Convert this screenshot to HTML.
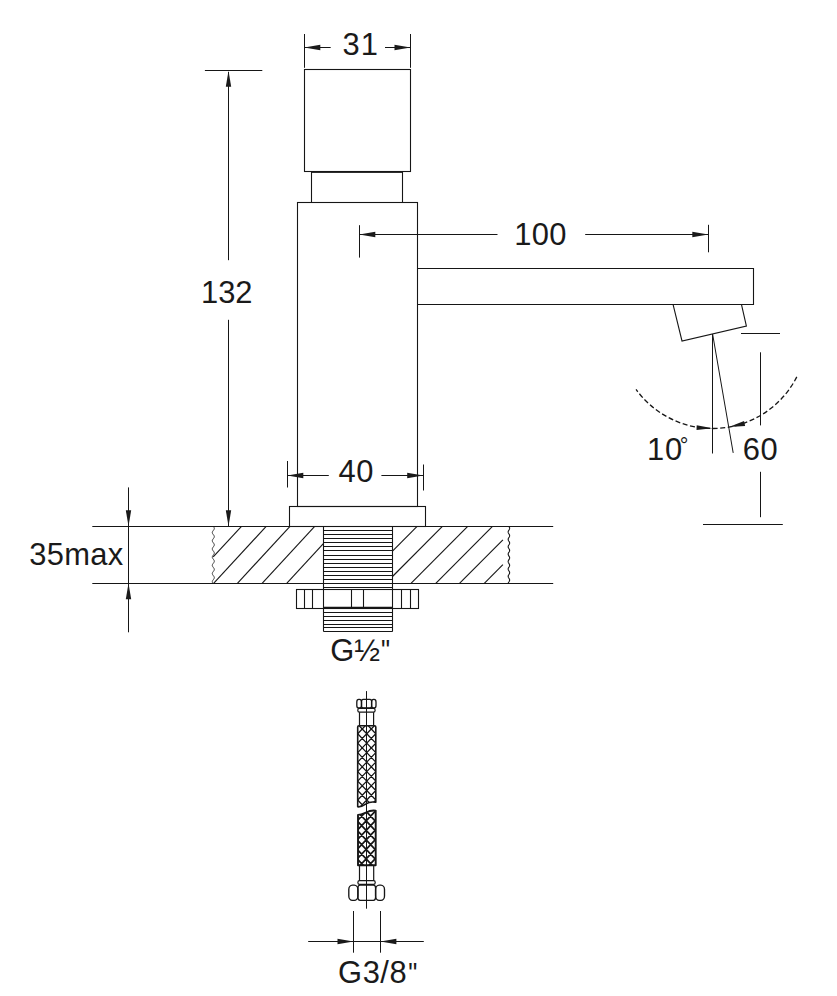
<!DOCTYPE html>
<html><head><meta charset="utf-8"><title>Technical drawing</title>
<style>
html,body{margin:0;padding:0;background:#fff;}
svg{display:block;}
text{font-family:"Liberation Sans",sans-serif;fill:#1a1a1a;stroke:none;}
</style></head>
<body>
<svg width="837" height="996" viewBox="0 0 837 996" stroke="#161616" fill="none">
<rect x="304.5" y="69.5" width="106.0" height="102.0" fill="none" stroke-width="1.1"/>
<line x1="311.50" y1="171.50" x2="311.50" y2="202.40" stroke-width="1.1" />
<line x1="402.50" y1="171.50" x2="402.50" y2="202.40" stroke-width="1.1" />
<line x1="311.40" y1="172.50" x2="402.60" y2="172.50" stroke-width="0.9" />
<rect x="297.5" y="202.5" width="120.0" height="304.0" fill="none" stroke-width="1.1"/>
<rect x="289.5" y="506.5" width="136.0" height="20.0" fill="none" stroke-width="1.1"/>
<polyline points="417.5,268.5 753.5,268.5 753.5,304.5 417.5,304.5" fill="none" stroke-width="1.1"/>
<polyline points="673.1,304.6 682.0,341 746.4,326.1 741.5,304.6" fill="none" stroke-width="1.1"/>
<line x1="304.50" y1="34.00" x2="304.50" y2="67.80" stroke-width="1.0" />
<line x1="410.50" y1="34.00" x2="410.50" y2="67.80" stroke-width="1.0" />
<line x1="304.30" y1="47.50" x2="330.70" y2="47.50" stroke-width="1.0" />
<line x1="385.00" y1="47.50" x2="410.50" y2="47.50" stroke-width="1.0" />
<polygon points="304.30,47.50 320.30,44.80 320.30,50.20" fill="#1a1a1a" stroke="none"/>
<polygon points="410.50,47.50 394.50,50.20 394.50,44.80" fill="#1a1a1a" stroke="none"/>
<text transform="translate(342.50,55.30) scale(1.03,1.03)" font-size="30" letter-spacing="1.0">31</text>
<line x1="204.90" y1="70.50" x2="262.30" y2="70.50" stroke-width="1.0" />
<line x1="228.50" y1="72.00" x2="228.50" y2="260.20" stroke-width="1.0" />
<line x1="228.50" y1="319.80" x2="228.50" y2="526.00" stroke-width="1.0" />
<polygon points="228.50,70.80 231.20,86.80 225.80,86.80" fill="#1a1a1a" stroke="none"/>
<polygon points="228.50,526.20 225.80,510.20 231.20,510.20" fill="#1a1a1a" stroke="none"/>
<text transform="translate(201.00,302.60) scale(1.03,1.03)" font-size="30" letter-spacing="0">132</text>
<line x1="359.50" y1="225.20" x2="359.50" y2="257.60" stroke-width="1.0" />
<line x1="708.50" y1="224.80" x2="708.50" y2="252.30" stroke-width="1.0" />
<line x1="359.30" y1="234.50" x2="497.50" y2="234.50" stroke-width="1.0" />
<line x1="585.20" y1="234.50" x2="708.30" y2="234.50" stroke-width="1.0" />
<polygon points="359.30,234.50 375.30,231.80 375.30,237.20" fill="#1a1a1a" stroke="none"/>
<polygon points="708.30,234.50 692.30,237.20 692.30,231.80" fill="#1a1a1a" stroke="none"/>
<text transform="translate(514.20,244.60) scale(1.03,1.03)" font-size="30" letter-spacing="0.3">100</text>
<line x1="287.50" y1="461.00" x2="287.50" y2="487.50" stroke-width="1.0" />
<line x1="423.50" y1="464.50" x2="423.50" y2="490.50" stroke-width="1.0" />
<line x1="287.30" y1="475.50" x2="328.80" y2="475.50" stroke-width="1.0" />
<line x1="381.40" y1="475.50" x2="423.20" y2="475.50" stroke-width="1.0" />
<polygon points="287.30,475.50 303.30,472.80 303.30,478.20" fill="#1a1a1a" stroke="none"/>
<polygon points="423.20,475.50 407.20,478.20 407.20,472.80" fill="#1a1a1a" stroke="none"/>
<text transform="translate(338.50,482.10) scale(1.03,1.03)" font-size="30" letter-spacing="0.5">40</text>
<line x1="92.30" y1="526.50" x2="553.20" y2="526.50" stroke-width="1.1" />
<line x1="92.30" y1="583.50" x2="553.20" y2="583.50" stroke-width="1.1" />
<line x1="213.20" y1="556.97" x2="241.50" y2="526.40" stroke-width="1.12" />
<line x1="213.60" y1="583.30" x2="266.20" y2="526.40" stroke-width="1.12" />
<line x1="237.40" y1="583.30" x2="290.00" y2="526.40" stroke-width="1.12" />
<line x1="262.10" y1="583.30" x2="314.70" y2="526.40" stroke-width="1.12" />
<line x1="286.70" y1="583.30" x2="323.60" y2="543.31" stroke-width="1.12" />
<line x1="392.50" y1="551.20" x2="417.10" y2="526.40" stroke-width="1.12" />
<line x1="392.50" y1="576.50" x2="442.40" y2="526.40" stroke-width="1.12" />
<line x1="411.00" y1="583.30" x2="467.70" y2="526.40" stroke-width="1.12" />
<line x1="435.80" y1="583.30" x2="492.50" y2="526.40" stroke-width="1.12" />
<line x1="459.50" y1="583.30" x2="502.90" y2="539.90" stroke-width="1.12" />
<line x1="484.30" y1="583.30" x2="502.90" y2="564.70" stroke-width="1.12" />
<polyline points="213.30,526.40 213.68,526.90 214.00,527.41 214.22,527.91 214.30,528.41 214.24,528.92 214.04,529.42 213.73,529.92 213.35,530.43 212.98,530.93 212.64,531.44 212.41,531.94 212.30,532.44 212.35,532.95 212.53,533.45 212.82,533.95 213.19,534.46 213.57,534.96 213.91,535.46 214.17,535.97 214.29,536.47 214.27,536.97 214.11,537.48 213.82,537.98 213.46,538.48 213.08,538.99 212.73,539.49 212.46,540.00 212.32,540.50 212.32,541.00 212.46,541.51 212.73,542.01 213.08,542.51 213.47,543.02 213.82,543.52 214.11,544.02 214.27,544.53 214.29,545.03 214.17,545.53 213.91,546.04 213.57,546.54 213.19,547.05 212.82,547.55 212.53,548.05 212.35,548.56 212.30,549.06 212.41,549.56 212.64,550.07 212.98,550.57 213.36,551.07 213.73,551.58 214.04,552.08 214.24,552.58 214.30,553.09 214.22,553.59 214.00,554.09 213.68,554.60 213.30,555.10 212.92,555.61 212.60,556.11 212.38,556.61 212.30,557.12 212.36,557.62 212.57,558.12 212.87,558.63 213.25,559.13 213.63,559.63 213.96,560.14 214.19,560.64 214.30,561.14 214.25,561.65 214.07,562.15 213.77,562.65 213.41,563.16 213.03,563.66 212.68,564.17 212.43,564.67 212.31,565.17 212.33,565.68 212.50,566.18 212.78,566.68 213.14,567.19 213.52,567.69 213.87,568.19 214.14,568.70 214.28,569.20 214.28,569.70 214.14,570.21 213.87,570.71 213.52,571.22 213.13,571.72 212.77,572.22 212.49,572.73 212.33,573.23 212.31,573.73 212.44,574.24 212.69,574.74 213.03,575.24 213.41,575.75 213.78,576.25 214.07,576.75 214.26,577.26 214.30,577.76 214.19,578.26 213.95,578.77 213.62,579.27 213.24,579.78 212.87,580.28 212.56,580.78 212.36,581.29 212.30,581.79 212.39,582.29 212.60,582.80 212.93,583.30" fill="none" stroke-width="0.85" />
<polyline points="508.90,526.40 509.21,526.90 509.47,527.41 509.62,527.91 509.64,528.41 509.53,528.92 509.31,529.42 509.01,529.92 508.69,530.43 508.41,530.93 508.22,531.44 508.15,531.94 508.21,532.44 508.40,532.95 508.68,533.45 509.00,533.95 509.30,534.46 509.52,534.96 509.64,535.46 509.62,535.97 509.48,536.47 509.22,536.97 508.91,537.48 508.60,537.98 508.34,538.48 508.19,538.99 508.16,539.49 508.26,540.00 508.48,540.50 508.77,541.00 509.09,541.51 509.38,542.01 509.57,542.51 509.65,543.02 509.59,543.52 509.41,544.02 509.13,544.53 508.82,545.03 508.52,545.53 508.28,546.04 508.16,546.54 508.17,547.05 508.32,547.55 508.56,548.05 508.87,548.56 509.19,549.06 509.45,549.56 509.61,550.07 509.65,550.57 509.55,551.07 509.33,551.58 509.04,552.08 508.72,552.58 508.43,553.09 508.23,553.59 508.15,554.09 508.20,554.60 508.38,555.10 508.65,555.61 508.97,556.11 509.27,556.61 509.51,557.12 509.64,557.62 509.63,558.12 509.49,558.63 509.25,559.13 508.94,559.63 508.63,560.14 508.36,560.64 508.19,561.14 508.15,561.65 508.25,562.15 508.46,562.65 508.75,563.16 509.07,563.66 509.35,564.17 509.56,564.67 509.65,565.17 509.60,565.68 509.43,566.18 509.16,566.68 508.84,567.19 508.54,567.69 508.30,568.19 508.17,568.70 508.17,569.20 508.30,569.70 508.54,570.21 508.84,570.71 509.16,571.22 509.43,571.72 509.60,572.22 509.65,572.73 509.56,573.23 509.35,573.73 509.07,574.24 508.75,574.74 508.46,575.24 508.25,575.75 508.15,576.25 508.19,576.75 508.36,577.26 508.63,577.76 508.94,578.26 509.25,578.77 509.49,579.27 509.63,579.78 509.64,580.28 509.51,580.78 509.27,581.29 508.97,581.79 508.65,582.29 508.38,582.80 508.20,583.30" fill="none" stroke-width="1.1" />
<line x1="323.50" y1="526.40" x2="323.50" y2="631.60" stroke-width="1.1" />
<line x1="392.50" y1="526.40" x2="392.50" y2="631.60" stroke-width="1.1" />
<line x1="323.60" y1="530.50" x2="392.50" y2="530.50" stroke-width="1.15" />
<line x1="323.60" y1="534.50" x2="392.50" y2="534.50" stroke-width="1.15" />
<line x1="323.60" y1="538.50" x2="392.50" y2="538.50" stroke-width="1.15" />
<line x1="323.60" y1="542.50" x2="392.50" y2="542.50" stroke-width="1.15" />
<line x1="323.60" y1="546.50" x2="392.50" y2="546.50" stroke-width="1.15" />
<line x1="323.60" y1="550.50" x2="392.50" y2="550.50" stroke-width="1.15" />
<line x1="323.60" y1="555.50" x2="392.50" y2="555.50" stroke-width="1.15" />
<line x1="323.60" y1="559.50" x2="392.50" y2="559.50" stroke-width="1.15" />
<line x1="323.60" y1="563.50" x2="392.50" y2="563.50" stroke-width="1.15" />
<line x1="323.60" y1="567.50" x2="392.50" y2="567.50" stroke-width="1.15" />
<line x1="323.60" y1="571.50" x2="392.50" y2="571.50" stroke-width="1.15" />
<line x1="323.60" y1="575.50" x2="392.50" y2="575.50" stroke-width="1.15" />
<line x1="323.60" y1="579.50" x2="392.50" y2="579.50" stroke-width="1.15" />
<line x1="323.60" y1="583.50" x2="392.50" y2="583.50" stroke-width="1.15" />
<line x1="323.60" y1="587.50" x2="392.50" y2="587.50" stroke-width="1.15" />
<line x1="323.60" y1="612.50" x2="392.50" y2="612.50" stroke-width="1.15" />
<line x1="323.60" y1="616.50" x2="392.50" y2="616.50" stroke-width="1.15" />
<line x1="323.60" y1="620.50" x2="392.50" y2="620.50" stroke-width="1.15" />
<line x1="323.60" y1="624.50" x2="392.50" y2="624.50" stroke-width="1.15" />
<line x1="323.60" y1="627.50" x2="392.50" y2="627.50" stroke-width="1.15" />
<line x1="323.60" y1="631.50" x2="392.50" y2="631.50" stroke-width="1.1" />
<rect x="296.5" y="589.5" width="122.0" height="19.0" fill="#fff" stroke-width="1.1"/>
<line x1="304.50" y1="589.40" x2="304.50" y2="608.20" stroke-width="1.1" />
<line x1="312.50" y1="589.40" x2="312.50" y2="608.20" stroke-width="1.1" />
<line x1="323.50" y1="589.40" x2="323.50" y2="608.20" stroke-width="1.1" />
<line x1="351.50" y1="589.40" x2="351.50" y2="608.20" stroke-width="1.1" />
<line x1="363.50" y1="589.40" x2="363.50" y2="608.20" stroke-width="1.1" />
<line x1="392.50" y1="589.40" x2="392.50" y2="608.20" stroke-width="1.1" />
<line x1="401.50" y1="589.40" x2="401.50" y2="608.20" stroke-width="1.1" />
<line x1="410.50" y1="589.40" x2="410.50" y2="608.20" stroke-width="1.1" />
<line x1="323.60" y1="607.50" x2="392.50" y2="607.50" stroke-width="1.6" />
<text transform="translate(330.20,661.30) scale(1.03,1.03)" font-size="30" letter-spacing="0">G½</text>
<text transform="translate(380.90,660.00) scale(0.85,1.0)" font-size="30" letter-spacing="0">"</text>
<line x1="128.50" y1="487.40" x2="128.50" y2="632.30" stroke-width="1.0" />
<polygon points="128.50,526.30 125.80,510.30 131.20,510.30" fill="#1a1a1a" stroke="none"/>
<polygon points="128.50,583.30 131.20,599.30 125.80,599.30" fill="#1a1a1a" stroke="none"/>
<text transform="translate(29.30,564.50) scale(1.03,1.03)" font-size="30" letter-spacing="0.3">35max</text>
<line x1="712.50" y1="334.00" x2="712.50" y2="453.50" stroke-width="1.0" />
<line x1="712.60" y1="334.00" x2="733.20" y2="452.90" stroke-width="1.0" />
<path d="M796.79,376.92 A94.5,94.5 0 0 1 636.06,389.43" fill="none" stroke-width="1.3" stroke-dasharray="5 2.6"/>
<polygon points="712.60,428.20 696.53,430.04 696.69,425.24" fill="#1a1a1a" stroke="none"/>
<polygon points="729.01,427.06 744.04,421.03 745.16,425.90" fill="#1a1a1a" stroke="none"/>
<text transform="translate(647.00,460.00) scale(1.03,1.03)" font-size="30" letter-spacing="0.8">10</text>
<text transform="translate(679.80,452.60) scale(1.03,1.03)" font-size="21" letter-spacing="0">°</text>
<text transform="translate(742.80,460.00) scale(1.03,1.03)" font-size="30" letter-spacing="0.4">60</text>
<line x1="741.00" y1="333.50" x2="780.00" y2="333.50" stroke-width="1.0" />
<line x1="760.50" y1="352.30" x2="760.50" y2="425.40" stroke-width="1.0" />
<line x1="760.50" y1="471.80" x2="760.50" y2="517.20" stroke-width="1.0" />
<line x1="703.00" y1="524.50" x2="782.80" y2="524.50" stroke-width="1.0" />
<line x1="366.50" y1="691.10" x2="366.50" y2="908.70" stroke-width="1.0" />
<rect x="356.8" y="699.4" width="4.70" height="8.6" rx="2.0" ry="2.6" fill="none" stroke-width="1.3"/>
<rect x="361.5" y="699.4" width="10.10" height="8.6" rx="1.6" ry="2.2" fill="none" stroke-width="1.3"/>
<rect x="371.6" y="699.4" width="4.40" height="8.6" rx="2.0" ry="2.6" fill="none" stroke-width="1.3"/>
<rect x="357.8" y="708.3" width="17.3" height="3.8" rx="1.6" ry="1.6" fill="none" stroke-width="1.2"/>
<path d="M359.5,712.3 V725 M373.6,712.3 V725" stroke-width="1.2"/>
<clipPath id="b1"><path d="M357.7,727 Q357.7,725.7 359.0,725.7 H374.5 Q375.8,725.7 375.8,727 V802.2 C371.8,801.6 368.8,802 366.5,803.6 C363.5,805.5 361.7,807.2 357.7,806.8 Z"/></clipPath>
<path d="M357.70,714.72 L366.75,724.20 M366.75,714.72 L357.70,724.20 M366.75,714.72 L375.80,724.20 M375.80,714.72 L366.75,724.20 M357.70,724.20 L366.75,733.68 M366.75,724.20 L357.70,733.68 M366.75,724.20 L375.80,733.68 M375.80,724.20 L366.75,733.68 M357.70,733.68 L366.75,743.16 M366.75,733.68 L357.70,743.16 M366.75,733.68 L375.80,743.16 M375.80,733.68 L366.75,743.16 M357.70,743.16 L366.75,752.64 M366.75,743.16 L357.70,752.64 M366.75,743.16 L375.80,752.64 M375.80,743.16 L366.75,752.64 M357.70,752.64 L366.75,762.12 M366.75,752.64 L357.70,762.12 M366.75,752.64 L375.80,762.12 M375.80,752.64 L366.75,762.12 M357.70,762.12 L366.75,771.60 M366.75,762.12 L357.70,771.60 M366.75,762.12 L375.80,771.60 M375.80,762.12 L366.75,771.60 M357.70,771.60 L366.75,781.08 M366.75,771.60 L357.70,781.08 M366.75,771.60 L375.80,781.08 M375.80,771.60 L366.75,781.08 M357.70,781.08 L366.75,790.56 M366.75,781.08 L357.70,790.56 M366.75,781.08 L375.80,790.56 M375.80,781.08 L366.75,790.56 M357.70,790.56 L366.75,800.04 M366.75,790.56 L357.70,800.04 M366.75,790.56 L375.80,800.04 M375.80,790.56 L366.75,800.04 M357.70,800.04 L366.75,809.52 M366.75,800.04 L357.70,809.52 M366.75,800.04 L375.80,809.52 M375.80,800.04 L366.75,809.52 M357.70,809.52 L366.75,819.00 M366.75,809.52 L357.70,819.00 M366.75,809.52 L375.80,819.00 M375.80,809.52 L366.75,819.00" fill="none" stroke-width="1.3" clip-path="url(#b1)"/>
<path d="M357.7,727 Q357.7,725.7 359.0,725.7 H374.5 Q375.8,725.7 375.8,727 V802.2 C371.8,801.6 368.8,802 366.5,803.6 C363.5,805.5 361.7,807.2 357.7,806.8 Z" fill="none" stroke-width="1.6" stroke-linejoin="round"/>
<clipPath id="b2"><path d="M358.0,865.2 H375.7 V810.6 C371.7,810.2 368.7,811 366.5,812.3 C363.5,813.6 362.0,814.9 358.0,814.9 Z"/></clipPath>
<path d="M357.20,801.90 L366.15,811.40 M366.15,801.90 L357.20,811.40 M366.15,801.90 L375.10,811.40 M375.10,801.90 L366.15,811.40 M357.20,811.40 L366.15,820.90 M366.15,811.40 L357.20,820.90 M366.15,811.40 L375.10,820.90 M375.10,811.40 L366.15,820.90 M357.20,820.90 L366.15,830.40 M366.15,820.90 L357.20,830.40 M366.15,820.90 L375.10,830.40 M375.10,820.90 L366.15,830.40 M357.20,830.40 L366.15,839.90 M366.15,830.40 L357.20,839.90 M366.15,830.40 L375.10,839.90 M375.10,830.40 L366.15,839.90 M357.20,839.90 L366.15,849.40 M366.15,839.90 L357.20,849.40 M366.15,839.90 L375.10,849.40 M375.10,839.90 L366.15,849.40 M357.20,849.40 L366.15,858.90 M366.15,849.40 L357.20,858.90 M366.15,849.40 L375.10,858.90 M375.10,849.40 L366.15,858.90 M357.20,858.90 L366.15,868.40 M366.15,858.90 L357.20,868.40 M366.15,858.90 L375.10,868.40 M375.10,858.90 L366.15,868.40 M357.20,868.40 L366.15,877.90 M366.15,868.40 L357.20,877.90 M366.15,868.40 L375.10,877.90 M375.10,868.40 L366.15,877.90" fill="none" stroke-width="1.7" clip-path="url(#b2)"/>
<path d="M358.0,865.2 H375.7 V810.6 C371.7,810.2 368.7,811 366.5,812.3 C363.5,813.6 362.0,814.9 358.0,814.9 Z" fill="none" stroke-width="1.9" stroke-linejoin="round"/>
<path d="M359.5,866 V880.5 M373.7,866 V880.5" stroke-width="1.2"/>
<rect x="357.9" y="880.7" width="17.3" height="3.6" rx="1.6" ry="1.6" fill="none" stroke-width="1.2"/>
<rect x="348.8" y="885.1" width="9.10" height="15.2" rx="3.6" ry="4.4" fill="none" stroke-width="1.35"/>
<rect x="357.9" y="885.1" width="17.70" height="15.2" rx="2.2" ry="3.0" fill="none" stroke-width="1.35"/>
<rect x="375.6" y="885.1" width="8.90" height="15.2" rx="3.6" ry="4.4" fill="none" stroke-width="1.35"/>
<line x1="353.50" y1="911.00" x2="353.50" y2="952.70" stroke-width="1.0" />
<line x1="380.50" y1="911.00" x2="380.50" y2="952.70" stroke-width="1.0" />
<line x1="308.20" y1="941.50" x2="423.80" y2="941.50" stroke-width="1.0" />
<polygon points="353.50,941.50 337.50,944.20 337.50,938.80" fill="#1a1a1a" stroke="none"/>
<polygon points="380.40,941.50 396.40,938.80 396.40,944.20" fill="#1a1a1a" stroke="none"/>
<text transform="translate(338.10,983.30) scale(1.03,1.03)" font-size="30" letter-spacing="0.5">G3/8</text>
<text transform="translate(408.20,983.30) scale(0.85,1.0)" font-size="30" letter-spacing="0">"</text>
</svg>
</body></html>
